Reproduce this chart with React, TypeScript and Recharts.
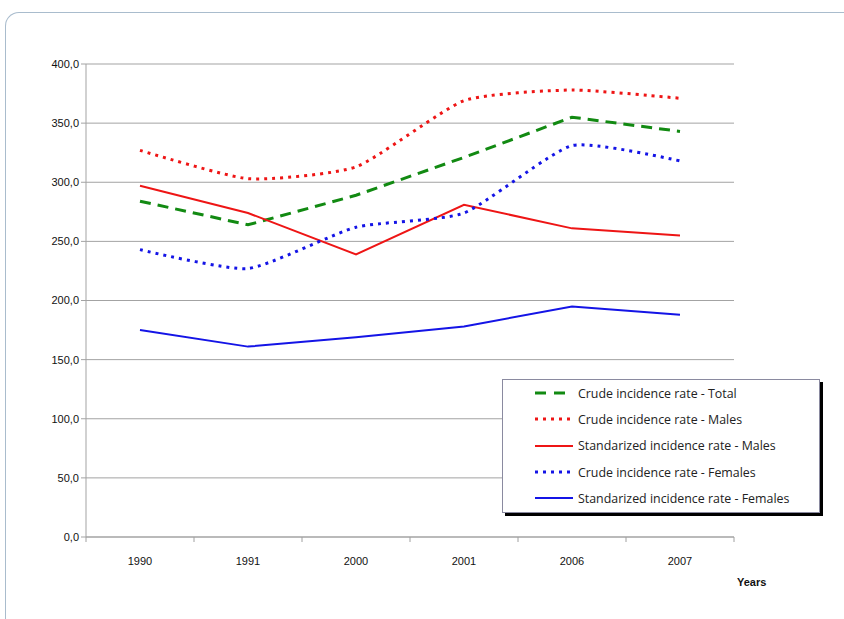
import React from "react";
import { LineChart, Line, XAxis, YAxis, CartesianGrid, Legend } from "recharts";

// ─── Data ──────────────────────────────────────────────────────────────────────

const years = ["1990", "1991", "2000", "2001", "2006", "2007"];
const crudeTotal = [284, 264, 289, 321, 355, 343];
const crudeMales = [327, 303, 313, 369, 378, 371];
const stdMales = [297, 274, 239, 281, 261, 255];
const crudeFemales = [243, 227, 262, 274, 331, 318];
const stdFemales = [175, 161, 169, 178, 195, 188];
const yTicks = [0, 50, 100, 150, 200, 250, 300, 350, 400];

const data = years.map((y, i) => ({
  year: y,
  crudeTotal: crudeTotal[i],
  crudeMales: crudeMales[i],
  stdMales: stdMales[i],
  crudeFemales: crudeFemales[i],
  stdFemales: stdFemales[i],
}));

// Excel-like smoothing (cardinal spline), passed to Line as a curve factory
function cardinal(tension: number) {
  const k = (1 - tension) / 6;
  return (context: any) => {
    let x0 = NaN, x1 = NaN, x2 = NaN, y0 = NaN, y1 = NaN, y2 = NaN, pt = 0;
    const seg = (x: number, y: number) =>
      context.bezierCurveTo(
        x1 + k * (x2 - x0),
        y1 + k * (y2 - y0),
        x2 + k * (x1 - x),
        y2 + k * (y1 - y),
        x2,
        y2
      );
    return {
      areaStart() {},
      areaEnd() {},
      lineStart() {
        x0 = x1 = x2 = y0 = y1 = y2 = NaN;
        pt = 0;
      },
      lineEnd() {
        if (pt === 2) context.lineTo(x2, y2);
        else if (pt === 3) seg(x1, y1);
      },
      point(x: number, y: number) {
        if (pt === 0) {
          pt = 1;
          context.moveTo(x, y);
        } else if (pt === 1) {
          pt = 2;
          x1 = x;
          y1 = y;
        } else {
          pt = 3;
          seg(x, y);
        }
        x0 = x1; x1 = x2; x2 = x;
        y0 = y1; y1 = y2; y2 = y;
      },
    };
  };
}

const smooth = cardinal(0.45);

const GREEN = "#128a12";
const RED = "#ee1515";
const BLUE = "#1414e6";

const series = [
  { key: "crudeTotal", name: "Crude incidence rate - Total", color: GREEN, dash: "11 7", width: 3, type: "linear" as any },
  { key: "crudeMales", name: "Crude incidence rate - Males", color: RED, dash: "3 5", width: 3, type: smooth },
  { key: "stdMales", name: "Standarized incidence rate - Males", color: RED, dash: undefined, width: 2, type: "linear" as any },
  { key: "crudeFemales", name: "Crude incidence rate - Females", color: BLUE, dash: "3 5", width: 3, type: smooth },
  { key: "stdFemales", name: "Standarized incidence rate - Females", color: BLUE, dash: undefined, width: 2, type: "linear" as any },
];

const font = "'Liberation Sans', Arial, sans-serif";

// ─── X tick: label at the category, tick marks between categories ─────────────

function XTick(props: any) {
  const { x, y, payload, index, width, visibleTicksCount } = props;
  const half = width / visibleTicksCount / 2;
  const axisY = y - 20;
  return (
    <g>
      <line x1={x - half} x2={x - half} y1={axisY} y2={axisY + 5} stroke="#a0a0a0" />
      {index === visibleTicksCount - 1 && (
        <line x1={x + half} x2={x + half} y1={axisY} y2={axisY + 5} stroke="#a0a0a0" />
      )}
      <text x={x} y={y} dy="0.71em" textAnchor="middle" fontSize={11} fill="#111" fontFamily={font}>
        {payload.value}
      </text>
    </g>
  );
}

// ─── Legend box ────────────────────────────────────────────────────────────────

function LegendBox() {
  return (
    <div
      style={{
        width: 318,
        height: 134,
        background: "#fff",
        border: "1px solid #8a8aa0",
        boxShadow: "3px 3px 0 #000",
        boxSizing: "border-box",
        paddingTop: 0,
      }}
    >
      {series.map((s) => (
        <div key={s.key} style={{ display: "flex", alignItems: "center", height: 26.3 }}>
          <svg width={40} height={10} style={{ marginLeft: 32, marginRight: 3 }}>
            <line
              x1={0}
              x2={38}
              y1={5}
              y2={5}
              stroke={s.color}
              strokeWidth={s.width}
              strokeDasharray={s.dash === "11 7" ? "11 8" : s.dash}
            />
          </svg>
          <span style={{ fontFamily: "'Open Sans', sans-serif", fontSize: 12.4, color: "#222" }}>{s.name}</span>
        </div>
      ))}
    </div>
  );
}

// ─── Main component ────────────────────────────────────────────────────────────

export default function App() {
  return (
    <div style={{ position: "absolute", left: 0, top: 0, width: 844, height: 619, background: "#fff", overflow: "hidden" }}>
      {/* rounded frame corner */}
      <div
        style={{
          position: "absolute",
          left: 5,
          top: 12,
          width: 900,
          height: 700,
          borderTop: "1.5px solid #a9bccd",
          borderLeft: "1.5px solid #a9bccd",
          borderTopLeftRadius: 14,
        }}
      />
      <div style={{ position: "absolute", left: 0, top: 0 }}>
        <LineChart width={844} height={619} data={data} margin={{ top: 64, right: 110, bottom: 52, left: 26 }}>
          <CartesianGrid vertical={false} stroke="#a3a3a3" />
          <XAxis
            dataKey="year"
            padding={{ left: 54, right: 54 }}
            stroke="#a3a3a3"
            tickLine={false}
            tickSize={0}
            tickMargin={20}
            height={30}
            tick={<XTick />}
            interval={0}
            label={{
              value: "Years",
              position: "right",
              offset: 3,
              dy: 30,
              fontSize: 11,
              fontWeight: "bold",
              fill: "#111",
              fontFamily: font,
            }}
          />
          <YAxis
            domain={[0, 400]}
            ticks={yTicks}
            width={60}
            stroke="#a3a3a3"
            tickSize={5}
            tickMargin={2}
            tick={{ fontSize: 11, fill: "#111", fontFamily: font }}
            tickFormatter={(v: number) => v.toFixed(1).replace(".", ",")}
          />
          <Legend
            layout="vertical"
            align="center"
            verticalAlign="middle"
            wrapperStyle={{ left: 502, top: 379, width: 320 }}
            content={() => <LegendBox />}
          />
          {series.map((s) => (
            <Line
              key={s.key}
              dataKey={s.key}
              name={s.name}
              type={s.type}
              stroke={s.color}
              strokeWidth={s.width}
              strokeDasharray={s.dash}
              dot={false}
              activeDot={false}
              isAnimationActive={false}
            />
          ))}
        </LineChart>
      </div>
    </div>
  );
}
